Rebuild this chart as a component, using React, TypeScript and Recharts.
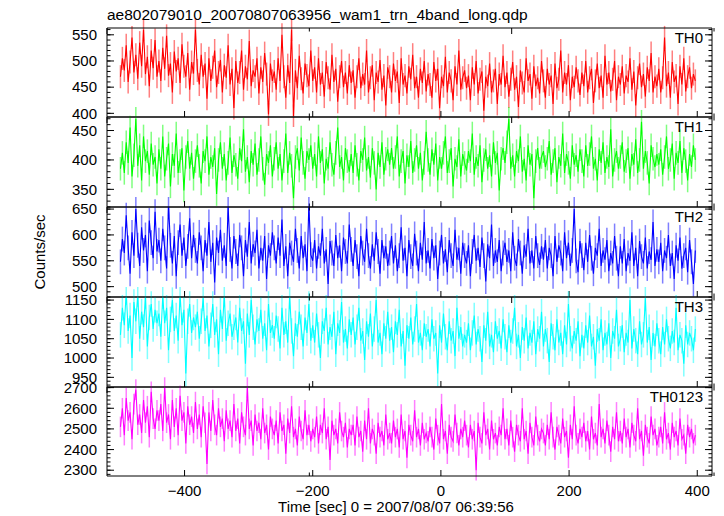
import { ErrorBar, Line, LineChart, XAxis, YAxis } from 'recharts';

// light curve bins: 3 s each, first bin at t = -500 s
const T0 = -500;
const DT = 3;

const th0 = [
  470, 505, 482, 530, 460, 498, 545, 478, 512, 466, 535, 490, 560, 475, 508, 452, 520, 486, 540, 470,
  500, 462, 525, 485, 548, 472, 495, 440, 518, 480, 505, 458, 532, 490, 470, 515, 445, 498, 476, 560,
  482, 455, 512, 470, 495, 428, 505, 462, 488, 520, 450, 478, 502, 440, 492, 468, 530, 455, 485, 410,
  500, 458, 478, 520, 445, 490, 465, 538, 452, 482, 470, 505, 438, 488, 460, 515, 475, 398, 495, 462,
  480, 445, 505, 462, 550, 470, 430, 492, 458, 560, 395, 482, 448, 510, 466, 438, 495, 472, 452, 520,
  462, 488, 440, 505, 455, 478, 432, 498, 468, 445, 512, 460, 485, 422, 470, 500, 450, 478, 438, 492,
  458, 482, 430, 470, 505, 448, 475, 455, 520, 440, 468, 492, 425, 478, 460, 502, 445, 472, 415, 488,
  470, 440, 495, 462, 480, 420, 505, 455, 472, 438, 490, 465, 512, 448, 470, 430, 485, 458, 500, 442,
  475, 455, 430, 498, 462, 485, 410, 470, 452, 508, 440, 478, 462, 425, 490, 455, 520, 445, 468, 482,
  448, 472, 425, 488, 455, 500, 438, 465, 480, 405, 470, 452, 495, 440, 462, 485, 418, 475, 455, 510,
  450, 478, 432, 465, 498, 445, 470, 412, 482, 458, 440, 505, 462, 475, 428, 490, 452, 468, 438, 500,
  462, 430, 485, 455, 472, 418, 495, 448, 465, 520, 440, 478, 455, 492, 425, 470, 450, 488, 462, 435,
  478, 452, 500, 440, 468, 485, 420, 462, 495, 448, 472, 430, 510, 455, 478, 442, 465, 500, 425, 470,
  455, 490, 438, 472, 460, 505, 445, 480, 415, 468, 495, 450, 475, 432, 488, 462, 515, 440, 470, 452,
  485, 440, 468, 545, 452, 478, 430, 498, 460, 472, 418, 490, 455, 505, 442, 470, 488, 448, 475, 462,
];

const th1 = [
  385, 412, 378, 430, 395, 455, 372, 408, 470, 390, 425, 365, 440, 398, 415, 375, 428, 392, 405, 360,
  418, 385, 440, 372, 402, 428, 355, 410, 390, 445, 378, 398, 420, 348, 405, 432, 385, 412, 368, 398,
  425, 390, 360, 415, 398, 440, 375, 405, 388, 420, 342, 400, 430, 385, 410, 365, 395, 438, 378, 408,
  392, 368, 420, 398, 452, 380, 405, 362, 415, 392, 428, 375, 400, 440, 385, 358, 410, 395, 425, 372,
  402, 430, 385, 410, 365, 398, 445, 378, 412, 390, 335, 405, 420, 382, 438, 395, 368, 415, 400, 425,
  385, 410, 372, 440, 395, 418, 360, 402, 385, 430, 392, 375, 412, 455, 388, 405, 365, 420, 398, 380,
  410, 378, 425, 392, 365, 415, 400, 438, 382, 405, 370, 420, 395, 350, 412, 388, 430, 375, 402, 418,
  392, 420, 385, 405, 440, 372, 398, 415, 360, 408, 388, 432, 378, 400, 425, 385, 412, 365, 395, 448,
  400, 375, 418, 392, 428, 365, 405, 385, 412, 440, 378, 398, 420, 355, 402, 388, 435, 372, 410, 395,
  382, 415, 398, 445, 375, 405, 390, 425, 362, 400, 418, 385, 408, 372, 430, 395, 412, 348, 402, 420,
  395, 430, 470, 385, 408, 372, 415, 398, 440, 380, 402, 365, 425, 392, 410, 335, 398, 420, 385, 405,
  415, 388, 402, 432, 375, 398, 420, 362, 405, 390, 445, 378, 410, 395, 368, 425, 392, 408, 380, 418,
  398, 372, 425, 390, 410, 440, 385, 402, 365, 418, 395, 430, 378, 405, 388, 452, 372, 400, 415, 385,
  405, 430, 380, 398, 420, 368, 410, 392, 435, 378, 400, 465, 385, 415, 395, 360, 425, 402, 388, 410,
  392, 418, 375, 405, 440, 385, 400, 428, 368, 412, 395, 432, 378, 420, 398, 365, 410, 388, 425, 400,
];

const th2 = [
  548, 592, 565, 638, 575, 525, 605, 560, 650, 580, 540, 615, 570, 600, 530, 628, 585, 555, 645, 568,
  590, 550, 612, 575, 535, 660, 580, 545, 598, 520, 585, 620, 560, 595, 540, 578, 632, 555, 600, 570,
  545, 605, 575, 530, 590, 560, 625, 548, 585, 508, 595, 565, 610, 550, 580, 540, 655, 572, 535, 598,
  568, 540, 600, 575, 520, 590, 558, 625, 545, 582, 565, 610, 535, 575, 550, 598, 515, 580, 560, 605,
  575, 545, 595, 560, 630, 540, 578, 520, 585, 565, 548, 612, 570, 535, 598, 555, 582, 530, 660, 562,
  550, 590, 535, 578, 560, 612, 545, 572, 505, 588, 565, 540, 600, 555, 580, 530, 595, 568, 545, 620,
  572, 540, 590, 558, 520, 598, 565, 548, 612, 560, 535, 582, 550, 605, 568, 525, 590, 555, 578, 540,
  565, 598, 545, 580, 530, 560, 615, 550, 575, 520, 590, 558, 540, 602, 565, 530, 585, 552, 625, 545,
  570, 535, 592, 555, 580, 515, 565, 600, 545, 572, 528, 590, 560, 540, 610, 552, 575, 525, 585, 560,
  545, 580, 520, 568, 600, 550, 575, 538, 595, 560, 510, 582, 555, 620, 540, 570, 548, 590, 530, 565,
  585, 548, 570, 530, 605, 555, 540, 592, 565, 525, 580, 558, 612, 545, 570, 535, 598, 560, 542, 578,
  552, 590, 535, 575, 560, 520, 598, 548, 580, 565, 530, 605, 555, 585, 540, 570, 650, 550, 528, 588,
  560, 532, 585, 548, 600, 555, 525, 575, 560, 612, 540, 570, 552, 590, 530, 565, 545, 598, 555, 520,
  578, 545, 592, 530, 565, 550, 605, 540, 575, 520, 588, 558, 545, 595, 535, 568, 552, 625, 540, 572,
  548, 585, 530, 570, 555, 600, 540, 565, 515, 580, 550, 595, 535, 560, 575, 528, 590, 548, 505, 570,
];

const th3 = [
  1060, 1130, 1085, 1170, 1070, 1110, 1000, 1145, 1095, 1165, 1050, 1120, 1080, 1160, 1030, 1105, 1140, 1075, 1125, 1090,
  1115, 1055, 1160, 1090, 1130, 1020, 1100, 1150, 1070, 1110, 1045, 1165, 1085, 1125, 960, 1095, 1140, 1065, 1105, 1080,
  1120, 1050, 1095, 1155, 1070, 1110, 1030, 1085, 1140, 1060, 1100, 1010, 1125, 1075, 1165, 1045, 1090, 1115, 1055, 1080,
  1105, 1040, 1130, 1070, 1095, 985, 1115, 1060, 1150, 1080, 1035, 1100, 1070, 1125, 1050, 1090, 1020, 1140, 1065, 1085,
  1050, 1110, 1075, 1025, 1130, 1060, 1095, 1040, 1160, 1070, 1005, 1090, 1055, 1120, 1080, 1030, 1105, 1065, 1140, 1045,
  1085, 1040, 1115, 1060, 1000, 1095, 1070, 1130, 1035, 1080, 1055, 1120, 1010, 1090, 1065, 1145, 1040, 1075, 1025, 1100,
  1060, 1105, 1035, 1080, 1130, 1045, 1070, 995, 1095, 1055, 1115, 1030, 1075, 1150, 1040, 1065, 1010, 1090, 1050, 1120,
  1045, 1080, 1015, 1095, 1060, 1125, 1030, 1070, 980, 1085, 1050, 1105, 1035, 1075, 1140, 1040, 1065, 1020, 1090, 1055,
  1075, 1030, 1100, 1050, 1065, 960, 1085, 1040, 1115, 1055, 1020, 1095, 1045, 1070, 1005, 1130, 1050, 1080, 1030, 1060,
  1040, 1090, 1020, 1065, 1110, 1035, 1075, 1050, 990, 1085, 1045, 1120, 1030, 1060, 1015, 1095, 1050, 1070, 1025, 1100,
  1055, 1015, 1085, 1040, 1070, 1130, 1030, 1060, 1000, 1080, 1045, 1105, 1025, 1065, 1040, 1095, 1010, 1075, 1050, 1120,
  1030, 1075, 1045, 990, 1090, 1055, 1020, 1100, 1040, 1065, 1010, 1085, 1035, 1140, 1050, 1025, 1070, 1045, 1095, 1005,
  1060, 1025, 1085, 1040, 1110, 1030, 1055, 980, 1075, 1045, 1100, 1020, 1065, 1035, 1090, 1000, 1070, 1050, 1125, 1030,
  1050, 1085, 1015, 1065, 1040, 1150, 1025, 1075, 1045, 1010, 1095, 1035, 1060, 1155, 1040, 1080, 995, 1065, 1030, 1090,
  1045, 1010, 1080, 1035, 1100, 1050, 1025, 1070, 1040, 1130, 1020, 1060, 1045, 985, 1085, 1035, 1065, 1050, 1020, 1075,
];

const th0123 = [
  2510, 2600, 2470, 2650, 2540, 2580, 2450, 2620, 2690, 2520, 2570, 2480, 2640, 2530, 2610, 2460, 2680, 2550, 2500, 2590,
  2540, 2620, 2490, 2700, 2530, 2570, 2450, 2640, 2510, 2600, 2470, 2660, 2540, 2580, 2430, 2610, 2520, 2560, 2480, 2630,
  2500, 2570, 2460, 2610, 2530, 2330, 2580, 2490, 2640, 2520, 2470, 2600, 2510, 2550, 2440, 2590, 2500, 2540, 2460, 2620,
  2490, 2550, 2430, 2580, 2510, 2470, 2700, 2500, 2540, 2420, 2570, 2490, 2530, 2450, 2600, 2480, 2520, 2400, 2560, 2500,
  2470, 2540, 2430, 2580, 2490, 2520, 2380, 2550, 2480, 2610, 2460, 2500, 2420, 2560, 2490, 2450, 2590, 2470, 2520, 2440,
  2500, 2460, 2560, 2430, 2520, 2480, 2600, 2450, 2510, 2350, 2540, 2470, 2500, 2430, 2580, 2490, 2460, 2530, 2410, 2500,
  2470, 2520, 2420, 2560, 2460, 2490, 2390, 2540, 2450, 2600, 2430, 2500, 2470, 2380, 2530, 2460, 2490, 2420, 2570, 2450,
  2480, 2430, 2540, 2460, 2500, 2410, 2570, 2450, 2490, 2360, 2520, 2470, 2440, 2590, 2460, 2500, 2420, 2530, 2450, 2480,
  2440, 2510, 2460, 2400, 2550, 2470, 2430, 2620, 2450, 2490, 2380, 2520, 2460, 2440, 2570, 2480, 2420, 2500, 2460, 2540,
  2470, 2410, 2520, 2450, 2490, 2300, 2530, 2460, 2430, 2580, 2470, 2500, 2400, 2540, 2450, 2480, 2420, 2510, 2470, 2600,
  2450, 2500, 2420, 2540, 2460, 2390, 2520, 2470, 2440, 2600, 2450, 2490, 2380, 2530, 2460, 2420, 2560, 2470, 2440, 2500,
  2480, 2420, 2520, 2450, 2580, 2460, 2400, 2510, 2470, 2430, 2550, 2460, 2490, 2360, 2520, 2450, 2610, 2470, 2430, 2500,
  2460, 2530, 2440, 2490, 2400, 2560, 2450, 2480, 2420, 2620, 2460, 2500, 2430, 2540, 2470, 2390, 2510, 2450, 2580, 2440,
  2490, 2430, 2550, 2460, 2500, 2410, 2530, 2470, 2440, 2600, 2450, 2490, 2370, 2520, 2460, 2430, 2560, 2470, 2500, 2420,
  2460, 2510, 2430, 2580, 2450, 2480, 2400, 2530, 2460, 2490, 2420, 2550, 2450, 2470, 2380, 2520, 2460, 2500, 2430, 2470,
];

const xMajor = [-400, -200, 0, 200, 400];
const xMinor = [-500, -300, -100, 100, 300];

const FONT = 'Liberation Sans, Arial, Helvetica, sans-serif';
const W = 724;
const PLOT_L = 107;
const PLOT_R = 712;
const PAD = 10;
const X_DOMAIN: [number, number] = [-521, 423];

const steps = (from: number, to: number, step: number) => {
  const out: number[] = [];
  for (let v = from; v <= to; v += step) out.push(v);
  return out;
};

const toRows = (vals: number[], err: number) =>
  vals.map((v, i) => ({ t: T0 + i * DT, v, err }));

const NoTick = () => <g />;

const YTick = (props: any) => (
  <text x={props.x} y={props.y} dy="0.35em" textAnchor="end" fontSize={15} fontFamily={FONT} fill="#000">
    {props.payload.value}
  </text>
);

const XTick = (props: any) => (
  <text x={props.x} y={props.y} dy="0.71em" textAnchor="middle" fontSize={15} fontFamily={FONT} fill="#000">
    {String(props.payload.value).replace('-', '\u2212')}
  </text>
);

const panels = [
  { label: 'TH0', vals: th0, err: 22, color: '#ff0000', halo: 'rgba(255,0,0,0.5)', domain: [393, 563], major: [400, 450, 500, 550], minorStep: 10, top: 28, h: 89 },
  { label: 'TH1', vals: th1, err: 20, color: '#00ff00', halo: 'rgba(0,255,0,0.5)', domain: [320, 473], major: [350, 400, 450], minorStep: 10, top: 117, h: 90 },
  { label: 'TH2', vals: th2, err: 24, color: '#0000ff', halo: 'rgba(0,0,255,0.5)', domain: [480, 654], major: [500, 550, 600, 650], minorStep: 10, top: 207, h: 90 },
  { label: 'TH3', vals: th3, err: 33, color: '#00ffff', halo: 'rgba(0,255,255,0.5)', domain: [925, 1158], major: [950, 1000, 1050, 1100, 1150], minorStep: 10, top: 297, h: 90 },
  { label: 'TH0123', vals: th0123, err: 50, color: '#ff00ff', halo: 'rgba(255,0,255,0.5)', domain: [2272, 2703], major: [2300, 2400, 2500, 2600, 2700], minorStep: 20, top: 387, h: 89 },
];

function Panel({ p, last }: { p: (typeof panels)[number]; last: boolean }) {
  const padB = last ? 50 : PAD;
  const [lo, hi] = p.domain;
  const minor = steps(Math.ceil(lo / p.minorStep) * p.minorStep, hi, p.minorStep);
  const common = { type: 'number' as const, allowDataOverflow: true, interval: 0 as const, stroke: '#000' };
  return (
    <div style={{ position: 'absolute', left: 0, top: p.top - PAD }}>
      <LineChart width={W} height={p.h + PAD + padB} data={toRows(p.vals, p.err)} margin={{ top: 0, right: 0, bottom: 0, left: 0 }}>
        <XAxis xAxisId="b" dataKey="t" orientation="bottom" height={padB} domain={X_DOMAIN} ticks={xMajor}
          tickSize={-6} tickMargin={15} tick={last ? XTick : NoTick} {...common} />
        <XAxis xAxisId="bm" orientation="bottom" mirror domain={X_DOMAIN} ticks={xMinor}
          tickSize={3.5} axisLine={false} tick={NoTick} {...common} />
        <XAxis xAxisId="t" orientation="top" height={PAD} domain={X_DOMAIN} ticks={xMajor}
          tickSize={-6} tick={NoTick} {...common} />
        <XAxis xAxisId="tm" orientation="top" mirror domain={X_DOMAIN} ticks={xMinor}
          tickSize={3.5} axisLine={false} tick={NoTick} {...common} />
        <YAxis yAxisId="l" orientation="left" width={PLOT_L} domain={p.domain} ticks={p.major}
          tickSize={-7} tickMargin={17} tick={YTick} {...common} />
        <YAxis yAxisId="lm" orientation="left" mirror domain={p.domain} ticks={minor}
          tickSize={3.5} axisLine={false} tick={NoTick} {...common} />
        <YAxis yAxisId="r" orientation="right" width={W - PLOT_R} domain={p.domain} ticks={p.major}
          tickSize={-7} tick={NoTick} {...common} />
        <YAxis yAxisId="rm" orientation="right" mirror domain={p.domain} ticks={minor}
          tickSize={3.5} axisLine={false} tick={NoTick} {...common} />
        <Line xAxisId="b" yAxisId="l" dataKey="v" stroke={p.color} strokeWidth={1.1} dot={false} isAnimationActive={false}>
          <ErrorBar dataKey="err" direction="y" width={0} stroke={p.halo} strokeWidth={1.5} isAnimationActive={false} />
        </Line>
      </LineChart>
    </div>
  );
}

export default function App() {
  return (
    <div style={{ position: 'absolute', left: 0, top: 0, width: W, height: 516, background: '#fff', overflow: 'hidden' }}>
      {panels.map((p, i) => (
        <Panel key={p.label} p={p} last={i === panels.length - 1} />
      ))}
      <svg width={W} height={516} style={{ position: 'absolute', left: 0, top: 0, pointerEvents: 'none' }}>
        <g fontFamily={FONT} fill="#000">
          <text x={PLOT_L} y={20} fontSize={15.5}>ae802079010_20070807063956_wam1_trn_4band_long.qdp</text>
          {panels.map((p) => (
            <text key={p.label} x={703} y={p.top + 15} fontSize={15} textAnchor="end">{p.label}</text>
          ))}
          <text x={39} y={252} fontSize={15} textAnchor="middle" dominantBaseline="central" transform="rotate(-90 39 252)">Counts/sec</text>
          <text x={396} y={512} fontSize={15} textAnchor="middle">Time [sec] 0 = 2007/08/07 06:39:56</text>
        </g>
      </svg>
    </div>
  );
}
